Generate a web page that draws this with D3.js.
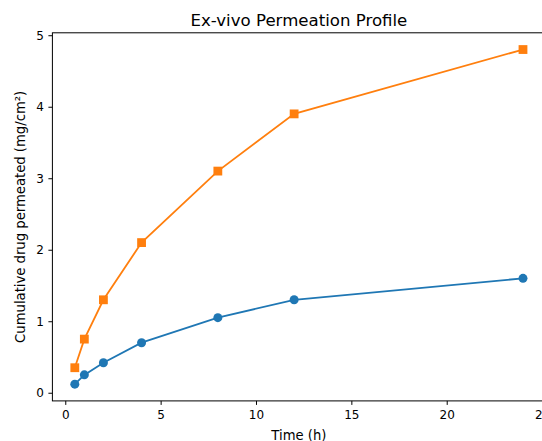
<!DOCTYPE html>
<html>
<head>
<meta charset="utf-8">
<script src="https://cdn.jsdelivr.net/npm/d3@7"></script>
<style>
  body { margin: 0; background: #fff; }
  svg { display: block; font-family: "DejaVu Sans", sans-serif; }
</style>
</head>
<body>
<svg id="chart" width="542" height="441"></svg>
<script>
// Sampling times (h) and cumulative permeation (mg/cm²) for the two formulations
const timeHours = [0.5, 1, 2, 4, 8, 12, 24];
const seriesBlue = [0.12, 0.25, 0.42, 0.7, 1.05, 1.3, 1.6];
const seriesOrange = [0.35, 0.75, 1.3, 2.1, 3.1, 3.9, 4.8];
const xTicks = [0, 5, 10, 15, 20, 25];
const yTicks = [0, 1, 2, 3, 4, 5];

const svg = d3.select("#chart");
const plotLeft = 52.4, plotRight = 545.4, plotTop = 32.8, plotBottom = 400.9;

const x = d3.scaleLinear().domain([-0.675, 25.175]).range([plotLeft, plotRight]);
const y = d3.scaleLinear().domain([-0.114, 5.034]).range([plotBottom, plotTop]);

// Frame
svg.append("rect")
  .attr("x", plotLeft).attr("y", plotTop)
  .attr("width", plotRight - plotLeft).attr("height", plotBottom - plotTop)
  .attr("fill", "none").attr("stroke", "#000").attr("stroke-width", 1);

// Axes
const xAxis = svg.append("g")
  .attr("transform", `translate(0,${plotBottom})`)
  .call(d3.axisBottom(x).tickValues(xTicks).tickFormat(d3.format("d")).tickSize(4).tickPadding(6));
const yAxis = svg.append("g")
  .attr("transform", `translate(${plotLeft},0)`)
  .call(d3.axisLeft(y).tickValues(yTicks).tickFormat(d3.format("d")).tickSize(4).tickPadding(4.5));
[xAxis, yAxis].forEach(g => {
  g.select(".domain").remove();
  g.selectAll("text").attr("font-size", 12).attr("fill", "#000").attr("font-family", "DejaVu Sans, sans-serif");
  g.selectAll("line").attr("stroke", "#000");
});

// Series
const line = d3.line().x(d => x(d[0])).y(d => y(d[1]));
const series = [
  { values: seriesBlue, color: "#1f77b4", marker: "circle" },
  { values: seriesOrange, color: "#ff7f0e", marker: "square" }
];
series.forEach(s => {
  const pts = timeHours.map((t, i) => [t, s.values[i]]);
  svg.append("path").datum(pts)
    .attr("d", line).attr("fill", "none")
    .attr("stroke", s.color).attr("stroke-width", 1.8);
  if (s.marker === "circle") {
    svg.append("g").selectAll("circle").data(pts).join("circle")
      .attr("cx", d => x(d[0])).attr("cy", d => y(d[1])).attr("r", 4.5)
      .attr("fill", s.color);
  } else {
    const sz = 8.8;
    svg.append("g").selectAll("rect").data(pts).join("rect")
      .attr("x", d => x(d[0]) - sz / 2).attr("y", d => y(d[1]) - sz / 2)
      .attr("width", sz).attr("height", sz)
      .attr("fill", s.color);
  }
});

// Titles
svg.append("text")
  .attr("x", (plotLeft + plotRight) / 2).attr("y", 25.5)
  .attr("text-anchor", "middle").attr("font-size", 16.6)
  .text("Ex-vivo Permeation Profile");
svg.append("text")
  .attr("x", (plotLeft + plotRight) / 2).attr("y", 440)
  .attr("text-anchor", "middle").attr("font-size", 13.2)
  .text("Time (h)");
svg.append("text")
  .attr("transform", `translate(24.5,${(plotTop + plotBottom) / 2}) rotate(-90)`)
  .attr("text-anchor", "middle").attr("font-size", 13.2)
  .text("Cumulative drug permeated (mg/cm²)");
</script>
</body>
</html>
